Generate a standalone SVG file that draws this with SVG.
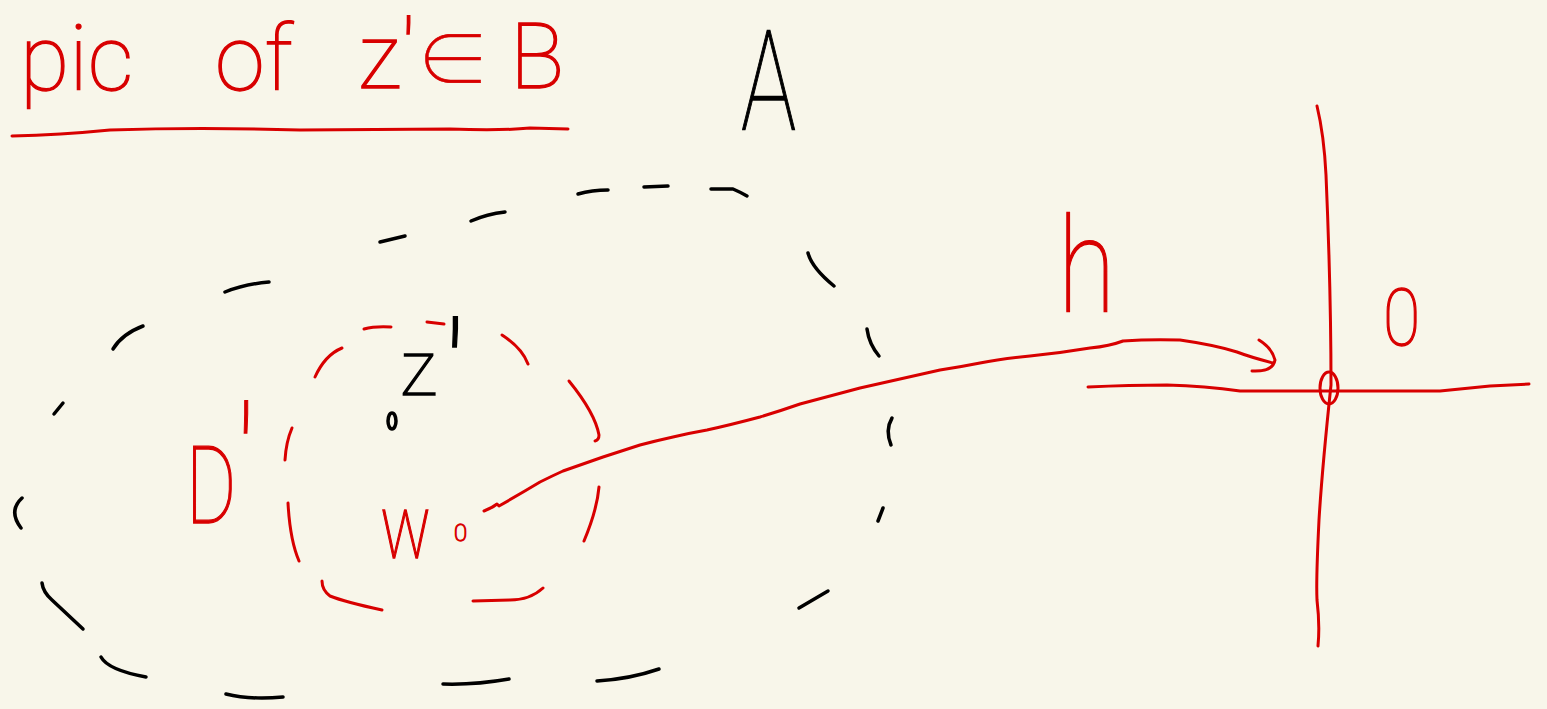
<svg xmlns="http://www.w3.org/2000/svg" width="1547" height="709" viewBox="0 0 1547 709">
<style>
.bg{fill:#f8f6ea}
.s{fill:none;stroke-linecap:round;stroke-linejoin:round}
.k{stroke:#000;stroke-width:3.5}
.r{stroke:#d80000;stroke-width:3}
.hand{font-family:Roboto,"DejaVu Sans",sans-serif;font-weight:100}
.tr{fill:#d80000;stroke:#d80000;stroke-width:1.3}
.tk{fill:#000;stroke:#000;stroke-width:1.3}
.sym{font-family:"Noto Sans CJK JP","Noto Sans",sans-serif;font-weight:100;stroke-width:0.6}
</style>
<rect class="bg" x="0" y="0" width="1547" height="709"/>
<g id="title">
<text class="hand tr" font-size="90"><tspan x="20" y="90">pic </tspan><tspan x="215" y="90">of </tspan><tspan x="358" y="88">z</tspan><tspan dy="-4">′</tspan><tspan class="sym" dy="2" font-size="74">∈</tspan><tspan x="510" y="88">B</tspan></text>
<path class="s r" d="M12,136 Q60,135 110,130 Q200,127 300,130 L450,129 Q500,131 530,128 L568,129"/>
</g>
<g id="region-A">
<g class="s k">
<path d="M113,349 Q122,334 143,326"/>
<path d="M225,292 Q245,284 269,282"/>
<path d="M380,242 L405,236"/>
<path d="M471,221 Q487,214 505,212"/>
<path d="M578,194 Q592,190 608,190"/>
<path d="M644,187 L668,186"/>
<path d="M711,189 L733,189 Q740,192 747,196"/>
<path d="M808,253 Q812,268 834,286"/>
<path d="M867,329 Q869,344 879,356"/>
<path d="M892,418 Q885,430 891,445"/>
<path d="M883,508 L878,521"/>
<path d="M828,591 L799,608"/>
<path d="M659,669 Q630,679 597,681"/>
<path d="M509,679 Q475,685 443,684"/>
<path d="M283,697 Q250,700 226,694"/>
<path d="M146,677 Q108,670 101,657"/>
<path d="M83,629 L52,600 Q43,592 42,583"/>
<path d="M22,498 Q8,511 21,528"/>
<path d="M54,414 L63,403"/>
</g>
<text class="hand tk" font-size="140" transform="translate(741,130) scale(0.66,1)">A</text>
</g>
<g id="disk-D">
<g class="s r">
<path d="M315,377 Q325,355 342,348"/>
<path d="M364,329 Q375,326 391,327"/>
<path d="M427,322 L444,324"/>
<path d="M502,335 Q522,348 528,364"/>
<path d="M569,381 Q595,413 599,435 Q599,440 595,441"/>
<path d="M599,487 Q597,510 584,541"/>
<path d="M543,588 Q530,600 510,600 L473,601"/>
<path d="M382,610 Q345,602 330,596 Q322,590 322,581"/>
<path d="M299,561 Q290,540 288,503"/>
<path d="M292,428 Q286,442 285,460"/>
</g>
<text class="hand tr" font-size="107" transform="translate(186,523) scale(0.72,1)">D<tspan dy="-2" font-size="160">′</tspan></text>
</g>
<g id="point-z">
<ellipse cx="392" cy="421" rx="4" ry="8" class="s k"/>
<text class="hand tk" font-size="77" x="400" y="395">z<tspan dx="6" dy="34" font-size="150">′</tspan></text>
</g>
<g id="point-w0">
<text class="hand tr" font-size="90" transform="translate(380,558) scale(0.75,1)">w</text>
<text class="hand tr" font-size="24" x="454" y="541">0</text>
</g>
<g id="connectors">
<path class="s r" d="M484,511 Q492,508 497,504 L499,506 Q520,494 540,482 Q552,476 563,471 L603,457 L640,445 Q655,441 673,437 Q690,433 707,430 Q730,425 760,417 Q780,411 800,404 L860,388 L940,370 Q960,367 980,363 Q1000,359 1030,356 Q1060,353 1090,348 Q1110,346 1123,341 Q1150,339 1180,340 Q1215,345 1237,352 Q1250,357 1273,363"/>
<path class="s r" d="M1259,340 Q1272,348 1275,360 Q1273,372 1252,371"/>
</g>
<g id="label-h">
<text class="hand tr" font-size="131" transform="translate(1058,312) scale(0.8,1)">h</text>
</g>
<g id="axes">
<path class="s r" d="M1088,387 Q1130,385 1167,385 Q1205,386 1240,391 L1330,391 L1440,391 Q1470,388 1490,386 L1529,384"/>
<path class="s r" d="M1317,106 Q1324,135 1326,175 Q1331,290 1331,385 Q1322,470 1319,520 Q1316,580 1317,600 Q1320,625 1318,646"/>
<ellipse class="s r" cx="1329" cy="388" rx="9" ry="16"/>
<text class="hand tr" font-size="80" transform="translate(1383,345) scale(0.85,1)">0</text>
</g>
</svg>
